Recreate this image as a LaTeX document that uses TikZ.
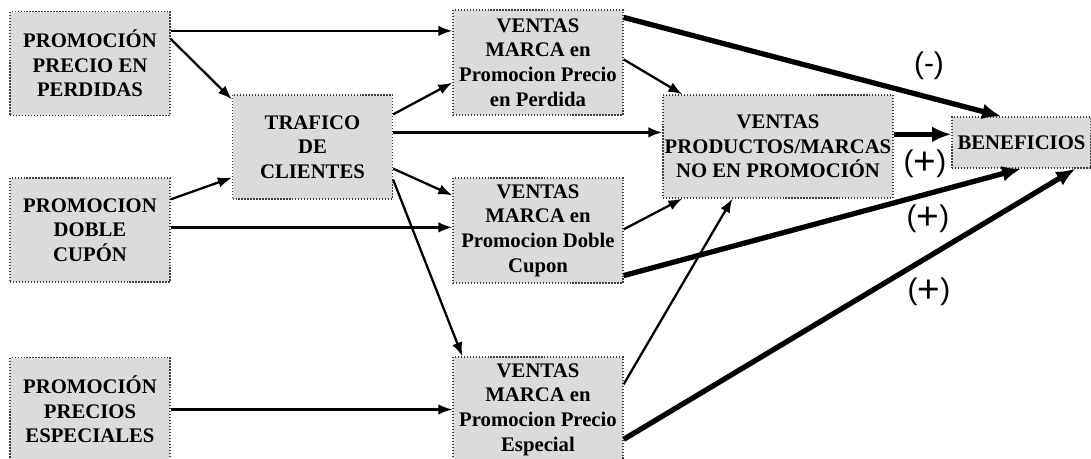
\documentclass[tikz,border=0pt]{standalone}
\usepackage{fontspec}
\setmainfont{Liberation Serif}
\newfontfamily\signfont{Liberation Sans}
\usetikzlibrary{arrows.meta,calc}
\newcommand{\masgrande}{\raisebox{-0.09em}{\scalebox{1.3}{+}}}

\begin{document}
\begin{tikzpicture}[x=0.02cm, y=-0.02cm,     % one unit = one pixel of the scan
  caja/.style={draw=black!75, densely dotted, line width=0.7pt, fill=black!14, align=center,
    inner sep=0pt, minimum width=3.2cm, minimum height=2.08cm, font=\bfseries\fontsize{11.8}{14}\selectfont},
  flecha/.style={-{Latex[length=8pt,width=6pt]}, line width=1.3pt},
  gruesa/.style={-{Latex[length=11pt,width=9pt]}, line width=3pt},
  signo/.style={font=\signfont\fontsize{17}{20}\selectfont}]
  \useasboundingbox (0,0) rectangle (1091,459);

  % promociones
  \node[caja] (precioperd) at (90,63.5) {PROMOCIÓN\\PRECIO EN\\PERDIDAS};
  \node[caja] (doblecupon) at (90,230) {PROMOCION\\DOBLE\\CUPÓN};
  \node[caja] (preciosesp) at (90,409.5) {PROMOCIÓN\\PRECIOS\\ESPECIALES};
  \node[caja] (trafico) at (312.5,147) {TRAFICO\\DE\\CLIENTES};

  % ventas
  \node[caja, minimum width=3.4cm, minimum height=2.1cm] (ventasperd) at (538,62.5) {VENTAS\\MARCA en\\Promocion Precio\\en Perdida};
  \node[caja, minimum width=3.4cm, minimum height=2.1cm] (ventasdoble) at (538,230.5) {VENTAS\\MARCA en\\Promocion Doble\\Cupon};
  \node[caja, minimum width=3.4cm, minimum height=2.1cm] (ventasesp) at (538,409.5) {VENTAS\\MARCA en\\Promocion Precio\\Especial};
  \node[caja, minimum width=4.6cm, minimum height=2.06cm] (nopromo) at (778,146.5) {VENTAS\\PRODUCTOS/MARCAS\\NO EN PROMOCIÓN};
  \node[caja, minimum width=2.78cm, minimum height=1.02cm] (beneficios) at (1021.5,142.5) {BENEFICIOS};

  % flechas finas
  \draw[flecha] ($(precioperd.north east)+(0,20)$) coordinate (a1) -- (a1 -| ventasperd.west);
  \draw[flecha] ($(precioperd.north east)+(0,28)$) -- ($(trafico.north west)+(0,5)$);
  \draw[flecha] ($(doblecupon.north east)+(0,22)$) -- ($(trafico.south west)+(0,-22)$);
  \draw[flecha] ($(doblecupon.north east)+(0,50)$) coordinate (a2) -- (a2 -| ventasdoble.west);
  \draw[flecha] (preciosesp.east) -- (preciosesp.east -| ventasesp.west);
  \draw[flecha] ($(trafico.north east)+(0,20)$) -- ($(ventasperd.south west)+(0,-33)$);
  \draw[flecha] ($(trafico.north east)+(0,38)$) coordinate (a3) -- (a3 -| nopromo.west);
  \draw[flecha] ($(trafico.south east)+(0,-31)$) -- ($(ventasdoble.north west)+(0,18)$);
  \draw[flecha] ($(trafico.south east)+(0,-20)$) -- ($(ventasesp.north west)+(10,0)$);
  \draw[flecha] ($(ventasperd.north east)+(0,50)$) -- ($(nopromo.north west)+(20,0)$);
  \draw[flecha] ($(ventasdoble.north east)+(0,52)$) -- ($(nopromo.south west)+(20,0)$);
  \draw[flecha] ($(ventasesp.north east)+(0,28)$) -- ($(nopromo.south west)+(70,0)$);

  % flechas gruesas hacia beneficios
  \draw[gruesa] ($(ventasperd.north east)+(0,8)$) -- ($(beneficios.north west)+(50,0)$);
  \draw[gruesa] ($(nopromo.north east)+(0,40)$) coordinate (a4) -- (a4 -| beneficios.west);
  \draw[gruesa] ($(ventasdoble.south east)+(0,-8)$) -- ($(beneficios.south west)+(70,0)$);
  \draw[gruesa] ($(ventasesp.north east)+(0,83)$) -- ($(beneficios.south east)+(-16,0)$);

  \node[signo] (menos) at (929,66) {(-)};
  \node[signo] (mas1) at (925,164) {(\masgrande)};
  \node[signo] (mas2) at (928,219) {(\masgrande)};
  \node[signo] (mas3) at (929,292) {(\masgrande)};
\end{tikzpicture}
\end{document}
